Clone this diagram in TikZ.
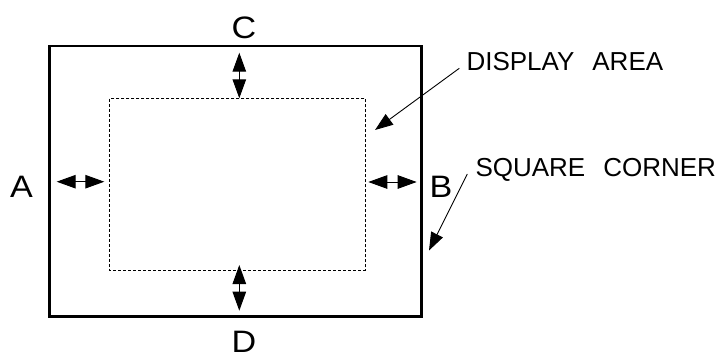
\documentclass[tikz,border=0pt]{standalone}
\usepackage{fontspec}
\setmainfont{Liberation Sans}
\usetikzlibrary{arrows.meta}
\begin{document}
\begin{tikzpicture}[x=1pt,y=-1pt,
  frame/.style={line width=2.5pt},
  dispbox/.style={line width=0.9pt, dash pattern=on 3pt off 2pt},
  dim/.style={line width=1pt, {Triangle[length=19pt,width=13.5pt]}-{Triangle[length=19pt,width=13.5pt]}},
  leader/.style={line width=0.9pt, -{Triangle[length=18pt,width=13pt]}},
  letter/.style={font=\fontsize{31}{31}\selectfont, inner sep=0pt, xscale=1.1},
  callout/.style={font=\fontsize{26}{26}\selectfont, inner sep=0pt, anchor=base west},
]
\useasboundingbox (0,0) rectangle (720,356);
% frames
\draw[frame] (49.5,46) rectangle (421.7,316.6);
\draw[dispbox] (109.7,98.7) rectangle (365.7,270);
% labels
\node[letter] (lc) at (244,28.3) {C};
\node[letter] (ld) at (244,341.8) {D};
\node[letter] (la) at (21.5,186.7) {A};
\node[letter] (lb) at (441,186.7) {B};
\node[callout] (disp) at (466.3,70) {DISPLAY\hspace{18pt}AREA};
\node[callout] (sq) at (475.3,176.5) {SQUARE\hspace{18pt}CORNER};
% dimension arrows
\coordinate (c1) at (239.3,52.7);  \coordinate (c2) at (239.3,98.3);
\coordinate (d1) at (239.3,265);   \coordinate (d2) at (239.3,310.7);
\coordinate (a1) at (56.7,181.7);  \coordinate (a2) at (104.3,181.7);
\coordinate (b1) at (368.3,182);   \coordinate (b2) at (416.7,182);
\draw[dim] (c1) -- (c2);
\draw[dim] (d1) -- (d2);
\draw[dim] (a1) -- (a2);
\draw[dim] (b1) -- (b2);
% leaders
\coordinate (ds) at (459.3,68.3);  \coordinate (dt) at (375,130);
\coordinate (ss) at (467.3,174);   \coordinate (st) at (429,250.5);
\draw[leader] (ds) -- (dt);
\draw[leader] (ss) -- (st);
\end{tikzpicture}
\end{document}
